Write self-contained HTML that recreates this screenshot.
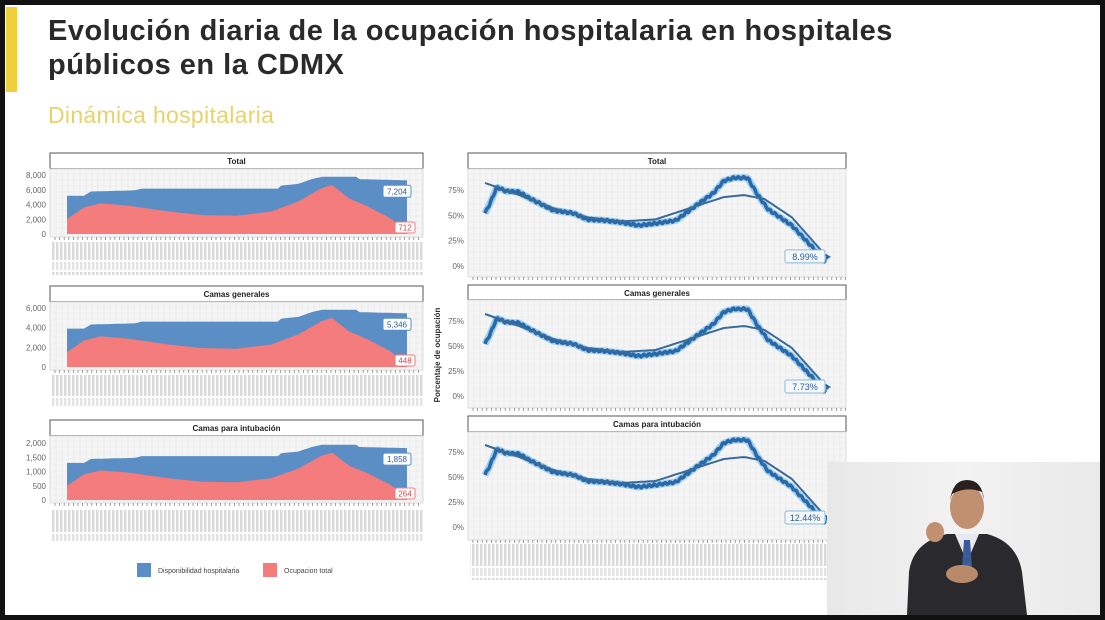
<!DOCTYPE html>
<html><head><meta charset="utf-8"><style>
html,body{margin:0;padding:0;}
body{width:1105px;height:620px;background:#111;position:relative;overflow:hidden;font-family:"Liberation Sans",sans-serif;}
#slide{position:absolute;left:5px;top:5px;width:1095px;height:610px;background:#fff;}
#bar{position:absolute;left:6px;top:7px;width:11px;height:85px;background:#f0cf3c;}
h1{position:absolute;left:48px;top:14px;margin:0;font-size:29px;line-height:34px;font-weight:bold;color:#2a2a2a;letter-spacing:0.5px;white-space:nowrap;}
h2{position:absolute;left:48px;top:102px;margin:0;font-size:23px;font-weight:normal;color:#e6d36a;letter-spacing:0.3px;}
svg{position:absolute;left:0;top:0;}
#video{position:absolute;left:827px;top:462px;width:273px;height:153px;background:linear-gradient(90deg,#e8e8e8,#f2f2f2 50%,#e9e9e9);}
</style></head><body>
<div id="slide"></div>
<div id="bar"></div>
<h1>Evolución diaria de la ocupación hospitalaria en hospitales<br>públicos en la CDMX</h1>
<h2>Dinámica hospitalaria</h2>
<svg id="s" width="1105" height="620" xmlns="http://www.w3.org/2000/svg">
<defs>
<pattern id="lab" width="4" height="34" patternUnits="userSpaceOnUse">
<rect x="0" y="0" width="2.5" height="22" fill="#dadada"/>
<rect x="0" y="24" width="2.5" height="8" fill="#e4e4e4"/>
</pattern>
</defs>
</svg>
<div id="video">
<svg width="273" height="153" style="position:absolute;left:0;top:0">
<path d="M80 153 L82 110 Q86 80 120 72 L160 72 Q190 80 195 110 L200 153 Z" fill="#2a2a2e"/>
<path d="M128 72 L140 100 L152 72 Z" fill="#e8e8f0"/>
<path d="M137 78 L143 78 L145 105 L140 112 L135 105 Z" fill="#3a5a9a"/>
<ellipse cx="140" cy="45" rx="17" ry="22" fill="#c09070"/>
<path d="M123 38 Q126 18 140 18 Q155 18 157 38 L155 30 Q140 24 125 32 Z" fill="#2a2020"/>
<ellipse cx="108" cy="70" rx="9" ry="10" fill="#c09070"/>
<ellipse cx="135" cy="112" rx="16" ry="9" fill="#b98a6a"/>
</svg>
</div>
<script>
const S=document.getElementById('s');const NS='http://www.w3.org/2000/svg';
function el(t,a,txt){const e=document.createElementNS(NS,t);for(const k in a)e.setAttribute(k,a[k]);if(txt!==undefined)e.textContent=txt;S.appendChild(e);return e;}
function interp(pts,t){for(let i=1;i<pts.length;i++){if(t<=pts[i][0]){const a=pts[i-1],b=pts[i];const f=(t-a[0])/(b[0]-a[0]||1);return a[1]+(b[1]-a[1])*f;}}return pts[pts.length-1][1];}
function panel(x0,x1,sy,py0,py1,title){
 el('rect',{x:x0,y:sy,width:x1-x0,height:py0-sy,fill:'#fff',stroke:'#555','stroke-width':1});
 el('line',{x1:x0,y1:py0,x2:x1,y2:py0,stroke:'#333','stroke-width':1.5});
 el('text',{x:(x0+x1)/2,y:sy+11,'font-size':8,'font-weight':'bold','text-anchor':'middle',fill:'#222'},title);
 el('rect',{x:x0,y:py0,width:x1-x0,height:py1-py0,fill:'#f5f5f5',stroke:'#ddd'});
 for(let x=x0+6;x<x1;x+=6)el('line',{x1:x,y1:py0,x2:x,y2:py1,stroke:'#e8e8e8','stroke-width':0.6});
 for(let y=py0+5;y<py1;y+=6)el('line',{x1:x0,y1:y,x2:x1,y2:y,stroke:'#e8e8e8','stroke-width':0.6});
 for(let x=x0+5;x<x1;x+=4.6)el('line',{x1:x,y1:py1,x2:x,y2:py1+3,stroke:'#888','stroke-width':0.8});
}
const red=[[0,0.25],[0.05,0.45],[0.1,0.52],[0.18,0.48],[0.3,0.38],[0.4,0.32],[0.5,0.31],[0.6,0.38],[0.68,0.55],[0.75,0.78],[0.78,0.83],[0.83,0.6],[0.88,0.48],[0.95,0.27],[0.99,0.09],[1,0.09]];
const blue=[[0,0.65],[0.05,0.65],[0.07,0.72],[0.2,0.74],[0.22,0.77],[0.62,0.77],[0.63,0.82],[0.68,0.85],[0.72,0.93],[0.75,0.97],[0.85,0.97],[0.86,0.93],[1,0.91]];
function area(x0,x1,yb,ytop,pts){let d='M'+x0+' '+yb;for(let i=0;i<=200;i++){const t=i/200;d+=' L'+(x0+(x1-x0)*t).toFixed(1)+' '+(yb-(yb-ytop)*interp(pts,t)).toFixed(1);}d+=' L'+x1+' '+yb+' Z';return d;}
function left(sy,py0,py1,y0,ytop,title,ticks,bl,rl){
 panel(50,423,sy,py0,py1,title);
 el('path',{d:area(67,407,y0,ytop,blue),fill:'#5b8ec4'});
 el('path',{d:area(67,407,y0,ytop,red),fill:'#f47c7c'});
 ticks.forEach((l,i)=>{const y=y0-(y0-ytop)*i/(ticks.length-1);el('text',{x:46,y:y+3,'font-size':8,'text-anchor':'end',fill:'#666'},l);});
 el('rect',{x:52,y:py1+5,width:372,height:33,fill:'url(#lab)'});
 el('rect',{x:383,y:y0-(y0-ytop)*0.91+5,width:28,height:12,fill:'#fff',stroke:'#5b8ec4',rx:2});
 el('text',{x:397,y:y0-(y0-ytop)*0.91+14,'font-size':8,'text-anchor':'middle',fill:'#2b5d96'},bl);
 el('rect',{x:395,y:y0-12,width:20,height:11,fill:'#fff',stroke:'#f47c7c',rx:2});
 el('text',{x:405,y:y0-3.5,'font-size':8,'text-anchor':'middle',fill:'#d04848'},rl);
}
left(153,169,237,234,175,'Total',['0','2,000','4,000','6,000','8,000'],'7,204','712');
left(286,302,370,367,308,'Camas generales',['0','2,000','4,000','6,000'],'5,346','448');
left(420,436,503,500,443,'Camas para intubación',['0','500','1,000','1,500','2,000'],'1,858','264');
el('rect',{x:137,y:563,width:14,height:14,fill:'#5b8ec4'});
el('text',{x:158,y:573,'font-size':7,fill:'#444'},'Disponibilidad hospitalaria');
el('rect',{x:263,y:563,width:14,height:14,fill:'#f47c7c'});
el('text',{x:284,y:573,'font-size':7,fill:'#444'},'Ocupacion total');
const line=[[0,52],[0.015,62],[0.035,78],[0.06,74],[0.1,73],[0.13,67],[0.2,55],[0.26,52],[0.3,46],[0.35,45],[0.4,43],[0.45,40],[0.5,42],[0.56,45],[0.62,60],[0.67,72],[0.7,84],[0.73,87],[0.77,87],[0.8,70],[0.83,56],[0.9,40],[0.97,15],[1,4]];
const fit=[[0,82],[0.1,70],[0.2,57],[0.3,48],[0.4,44],[0.5,46],[0.6,57],[0.7,68],[0.76,70],[0.82,66],[0.9,48],[1,10]];
function lpath(pts,x0,x1,y0,y75,jit){let d='';for(let i=0;i<=240;i++){const t=i/240;const v=interp(pts,t)+(jit?Math.sin(i*1.7)*1.2:0);d+=(i?' L':'M')+(x0+(x1-x0)*t).toFixed(1)+' '+(y0-(y0-y75)*v/75).toFixed(1);}return d;}
function right(sy,py0,py1,y0,y75,title,lab){
 panel(468,846,sy,py0,py1,title);
 ['0%','25%','50%','75%'].forEach((l,i)=>el('text',{x:464,y:y0-(y0-y75)*i/3+3,'font-size':8,'text-anchor':'end',fill:'#666'},l));
 el('path',{d:lpath(line,485,826,y0,y75,false),fill:'none',stroke:'#9cd0f0','stroke-width':7,'stroke-linejoin':'round'});
 el('path',{d:lpath(line,485,826,y0,y75,true),fill:'none',stroke:'#2b68a8','stroke-width':3.5,'stroke-linejoin':'round'});
 el('path',{d:lpath(fit,485,826,y0,y75,false),fill:'none',stroke:'#3a6a9a','stroke-width':2});
 const ly=y0-(y0-y75)*9/75;
 el('rect',{x:785,y:ly-7,width:40,height:13,fill:'#f4f8fb',stroke:'#8ab8d8',rx:2});
 el('text',{x:805,y:ly+3,'font-size':9,'text-anchor':'middle',fill:'#2b5d96'},lab);
 el('path',{d:`M826 ${ly-3} L831 ${ly} L826 ${ly+3} Z`,fill:'#2b68a8'});
}
right(153,169,277,266,190,'Total','8.99%');
right(285,300,408,396,321,'Camas generales','7.73%');
right(416,432,540,527,452,'Camas para intubación','12.44%');
el('rect',{x:470,y:544,width:376,height:36,fill:'url(#lab)'});
el('text',{x:440,y:355,'font-size':8,'font-weight':'bold','text-anchor':'middle',fill:'#333',transform:'rotate(-90 440 355)'},'Porcentaje de ocupación');
</script>
</body></html>
